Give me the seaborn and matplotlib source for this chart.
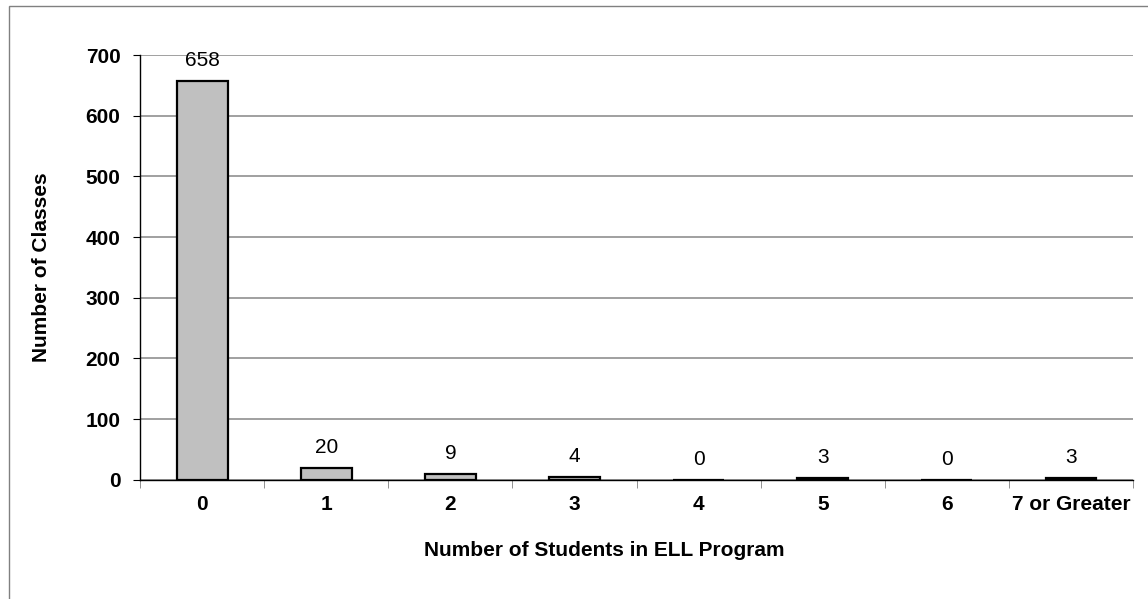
import matplotlib
matplotlib.use("Agg")
import matplotlib.pyplot as plt
import seaborn as sns
import pandas as pd
from matplotlib.patches import Rectangle

# chart data
categories = ["0", "1", "2", "3", "4", "5", "6", "7 or Greater"]
num_classes = [658, 20, 9, 4, 0, 3, 0, 3]

df = pd.DataFrame({"students": categories, "classes": num_classes})

sns.set_style("white")
plt.rcParams['font.family'] = ['Liberation Sans', 'DejaVu Sans']
plt.rcParams['text.color'] = 'black'
plt.rcParams['axes.labelcolor'] = 'black'
plt.rcParams['xtick.color'] = 'black'
plt.rcParams['ytick.color'] = 'black'

fs = 15

fig = plt.figure(figsize=(11.48, 5.99), dpi=100)
ax = fig.add_axes([0.122, 0.199, 0.865, 0.709])

sns.barplot(x="students", y="classes", data=df, color="#C0C0C0",
            edgecolor="black", linewidth=1.6, width=0.41, saturation=1, ax=ax)

for i, v in enumerate(num_classes):
    ax.text(i, v + 18, str(v), ha="center", va="bottom", fontsize=fs, color="black")

ax.set_ylim(0, 700)
ax.set_xlim(-0.5, len(categories) - 0.5)
ax.set_yticks(range(0, 701, 100))
ax.yaxis.grid(True, color="#999999", linewidth=1.3)
ax.set_axisbelow(True)

for s in ["top", "right"]:
    ax.spines[s].set_visible(False)
ax.spines["left"].set_color("black")
ax.spines["bottom"].set_color("black")
ax.spines["left"].set_linewidth(1.0)
ax.spines["bottom"].set_linewidth(1.0)

# x ticks between categories
ax.set_xticks([i - 0.5 for i in range(len(categories) + 1)], minor=True)
ax.tick_params(axis="x", which="major", length=0, pad=11)
ax.tick_params(axis="x", which="minor", length=6, color="#808080", direction="out", bottom=True)
ax.tick_params(axis="y", length=5, color="black", direction="out", left=True, pad=9)

for lab in ax.get_xticklabels() + ax.get_yticklabels():
    lab.set_fontweight("bold")
    lab.set_fontsize(fs)

ax.set_xlabel("Number of Students in ELL Program", fontsize=fs, fontweight="bold")
ax.set_ylabel("Number of Classes", fontsize=fs, fontweight="bold", labelpad=25)
ax.xaxis.set_label_coords(0.467, -0.145)

# outer frame (only left and top edges fall inside the image)
fig.patches.append(Rectangle((0.008, -0.1), 1.2, 1.09, transform=fig.transFigure,
                             fill=False, edgecolor="#808080", linewidth=1.0))

fig.savefig("out.png", dpi=100)
